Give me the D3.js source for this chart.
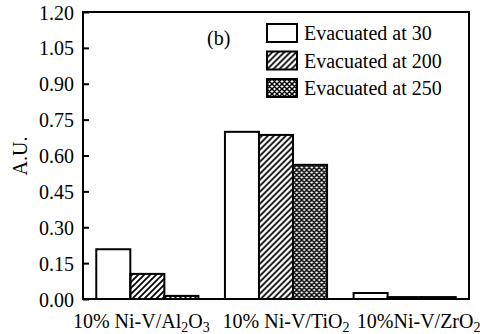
<!DOCTYPE html>
<html>
<head>
<meta charset="utf-8">
<script src="https://cdn.jsdelivr.net/npm/d3@7"></script>
<style>
  body { margin: 0; background: #fff; }
</style>
</head>
<body>
<div id="chart"></div>
<script>
const width = 480;
const height = 334;
let margin = { top: 12, right: 11, bottom: 35, left: 83 };
const serif = '"Liberation Serif"';

// data
const supports = ["Al2O3", "TiO2", "ZrO2"];
const series = ["Evacuated at 30", "Evacuated at 200", "Evacuated at 250"];
const evac30 = [0.208, 0.699, 0.025];
const evac200 = [0.105, 0.686, 0.008];
const evac250 = [0.013, 0.561, 0.008];
const yTicks = [0, 0.15, 0.30, 0.45, 0.60, 0.75, 0.90, 1.05, 1.20];

const values = [evac30, evac200, evac250];
const rows = supports.map((s, i) => ({
    support: s,
    bars: series.map((name, j) => ({ name: name, idx: j, value: values[j][i] }))
}));

const svg = d3.select("#chart").append("svg")
    .attr("width", width)
    .attr("height", height);

// fill patterns
const defs = svg.append("defs");
defs.append("pattern")
    .attr("id", "hatch")
    .attr("patternUnits", "userSpaceOnUse")
    .attr("width", 6).attr("height", 6)
    .append("path")
    .attr("d", "M-1,1 l2,-2 M0,6 l6,-6 M5,7 l2,-2")
    .attr("stroke", "#000")
    .attr("stroke-width", 1.7);

const cross = defs.append("pattern")
    .attr("id", "cross")
    .attr("patternUnits", "userSpaceOnUse")
    .attr("width", 5).attr("height", 5);
cross.append("rect").attr("width", 5).attr("height", 5).attr("fill", "#fff");
cross.append("path")
    .attr("d", "M-1,1 l2,-2 M0,5 l5,-5 M4,6 l2,-2 M-1,4 l2,2 M0,0 l5,5 M4,-1 l2,2")
    .attr("stroke", "#000")
    .attr("stroke-width", 1.5);

const fills = ["#fff", "url(#hatch)", "url(#cross)"];

const x0 = d3.scaleBand()
    .domain(supports)
    .range([margin.left, width - margin.right]);

const x1 = d3.scaleBand()
    .domain(d3.range(series.length))
    .range([0, x0.bandwidth()])
    .paddingOuter(0.39);

const y = d3.scaleLinear()
    .domain([0, 1.2])
    .range([height - margin.bottom, margin.top]);

// bars
const groups = svg.selectAll(".grp")
    .data(rows)
    .join("g")
    .attr("class", "grp")
    .attr("transform", d => `translate(${x0(d.support)},0)`);

groups.selectAll("rect")
    .data(d => d.bars)
    .join("rect")
    .attr("x", d => x1(d.idx))
    .attr("y", d => y(d.value))
    .attr("width", x1.bandwidth())
    .attr("height", d => y(0) - y(d.value))
    .attr("fill", d => fills[d.idx])
    .attr("stroke", "#000")
    .attr("stroke-width", 2);

// frame
svg.append("rect")
    .attr("x", margin.left)
    .attr("y", margin.top)
    .attr("width", width - margin.left - margin.right)
    .attr("height", height - margin.top - margin.bottom)
    .attr("fill", "none")
    .attr("stroke", "#000")
    .attr("stroke-width", 2);

// y axis with inward ticks
const yAxis = svg.append("g")
    .attr("transform", `translate(${margin.left},0)`)
    .call(d3.axisLeft(y).tickValues(yTicks).tickFormat(d3.format(".2f")).tickSizeInner(-6).tickSizeOuter(0).tickPadding(9));
yAxis.attr("font-family", null).attr("font-size", null);
yAxis.select(".domain").remove();
yAxis.selectAll(".tick line").attr("stroke", "#000").attr("stroke-width", 2);
yAxis.selectAll(".tick text")
    .style("font-family", serif)
    .style("font-size", "20px")
    .attr("fill", "#000")
    .attr("dy", "0.35em");

// axis title
svg.append("text")
    .attr("transform", "translate(27,156) rotate(-90)")
    .attr("text-anchor", "middle")
    .style("font-family", serif)
    .style("font-size", "20px")
    .text("A.U.");

// x category labels with subscripts
const labelShift = [-6, 10, 14];
const xLabels = svg.selectAll(".xlab")
    .data(rows)
    .join("text")
    .attr("class", "xlab")
    .attr("x", (d, i) => x0(d.support) + x0.bandwidth() / 2 + labelShift[i])
    .attr("y", height - 6)
    .attr("text-anchor", "middle")
    .style("font-family", serif)
    .style("font-size", "20px");
xLabels.each(function(d, i) {
    const t = d3.select(this);
    t.append("tspan").text(i === 2 ? "10%Ni-V/" : "10% Ni-V/");
    let sub = false;
    d.support.match(/[A-Za-z]+|\d+/g).forEach(p => {
        const isNum = /\d/.test(p);
        const ts = t.append("tspan").text(p);
        if (isNum && !sub) { ts.attr("dy", 4).style("font-size", "14px"); sub = true; }
        else if (isNum) { ts.style("font-size", "14px"); }
        else if (sub) { ts.attr("dy", -4); sub = false; }
    });
});

// panel tag
svg.append("text")
    .attr("x", 207)
    .attr("y", 45)
    .style("font-family", serif)
    .style("font-size", "20px")
    .text("(b)");

// legend
const legend = svg.append("g")
    .attr("transform", "translate(267,24)");
const items = legend.selectAll("g")
    .data(series)
    .join("g")
    .attr("transform", (d, i) => `translate(0,${i * 27.5})`);
items.append("rect")
    .attr("width", 30)
    .attr("height", 18)
    .attr("fill", (d, i) => fills[i])
    .attr("stroke", "#000")
    .attr("stroke-width", 2);
items.append("text")
    .attr("x", 37)
    .attr("y", 16)
    .style("font-family", serif)
    .style("font-size", "20px")
    .text(d => d);
</script>
</body>
</html>
